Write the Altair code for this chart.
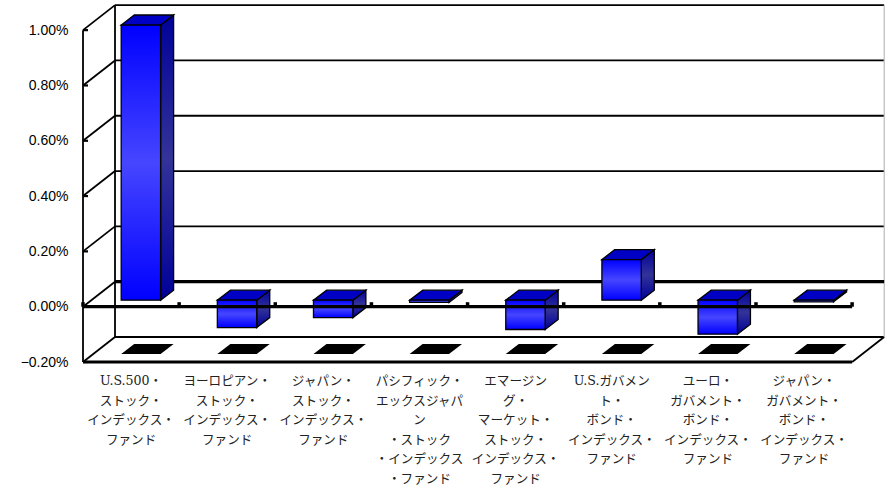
import altair as alt
import pandas as pd

categories = [
    "U.S.500・\nストック・\nインデックス・\nファンド",
    "ヨーロピアン・\nストック・\nインデックス・\nファンド",
    "ジャパン・\nストック・\nインデックス・\nファンド",
    "パシフィック・\nエックスジャパ\nン\n・ストック\n・インデックス\n・ファンド",
    "エマージン\nグ・\nマーケット・\nストック・\nインデックス・\nファンド",
    "U.S.ガバメン\nト・\nボンド・\nインデックス・\nファンド",
    "ユーロ・\nガバメント・\nボンド・\nインデックス・\nファンド",
    "ジャパン・\nガバメント・\nボンド・\nインデックス・\nファンド",
]
returns = [0.00995, -0.00099, -0.00063, -0.00008, -0.00106, 0.00147, -0.00123, -0.00006]
y_ticks = [-0.002, 0.0, 0.002, 0.004, 0.006, 0.008, 0.010]

# Oblique projection, in axis units: x is one category wide, y is a return.
PER_PX_X = 1 / 96.14
PER_PX_Y = 0.01 / 276.5
WALL_DX, WALL_DY = 32 * PER_PX_X, 25 * PER_PX_Y
BAR_LEFT, BAR_W = 38.2 * PER_PX_X, 39.4 * PER_PX_X
BAR_DX, BAR_DY = 13 * PER_PX_X, 10 * PER_PX_Y
BAR_LIFT = 6.5 * PER_PX_Y
SHADOW_LIFT = 8 * PER_PX_Y
N = len(categories)
Y_MIN, Y_MAX = -0.002, 0.01109
X_MAX = 802 * PER_PX_X

x_scale = alt.Scale(domain=[0, X_MAX], nice=False, zero=False)
y_scale = alt.Scale(domain=[Y_MIN, Y_MAX], nice=False, zero=False)
y_axis = alt.Axis(
    values=y_ticks, format=".2%", ticks=False, domain=False, grid=False,
    labelPadding=15, labelFontSize=14, labelFont="Liberation Sans",
    labelColor="#000000", title=None,
)
X = alt.X("x:Q", scale=x_scale, axis=None)
Y = alt.Y("y:Q", scale=y_scale, axis=y_axis)


def v_gradient(edge, middle):
    return alt.Gradient(
        gradient="linear", x1=0, x2=0, y1=0, y2=1,
        stops=[
            alt.GradientStop(color=edge, offset=0),
            alt.GradientStop(color=middle, offset=0.5),
            alt.GradientStop(color=edge, offset=1),
        ],
    )


def rules(rows, width, color="black"):
    df = pd.DataFrame(rows, columns=["x", "x2", "y", "y2"])
    return alt.Chart(df).mark_rule(strokeWidth=width, color=color).encode(
        x=X, x2="x2:Q", y=Y, y2="y2:Q"
    )


# Back wall, side wall and floor
grid_levels = [t for t in y_ticks if t != -0.002 and t != 0.0]
wall_rows = [(WALL_DX, N + WALL_DX, t + WALL_DY, t + WALL_DY) for t in grid_levels]
wall_rows += [(0, WALL_DX, t, t + WALL_DY) for t in y_ticks]
wall_rows += [
    (WALL_DX, WALL_DX, Y_MIN + WALL_DY, 0.01 + WALL_DY),
    (0, 0, Y_MIN, 0.01),
    (WALL_DX, N + WALL_DX, Y_MIN + WALL_DY, Y_MIN + WALL_DY),
    (N, N + WALL_DX, Y_MIN, Y_MIN + WALL_DY),
]
walls = rules(wall_rows, 1.8)
far_edge = rules([(X_MAX - 0.008, X_MAX - 0.008, Y_MIN + WALL_DY, 0.01 + WALL_DY)], 1.2, "#bbbbbb")
y_marks = rules([(0, 5 * PER_PX_X, t, t) for t in y_ticks], 2.2)
floor_front = rules([(0, N, Y_MIN, Y_MIN)], 2.8)
zero_back = rules([(WALL_DX, N + WALL_DX, WALL_DY, WALL_DY)], 3.2)
zero_front = rules([(0, N, 0, 0)], 3.2)
zero_ticks = rules([(i, i, 0, 4.5 * PER_PX_Y) for i in range(N + 1)], 3.5)

# Faces of each box
front, side, top, shadow = [], [], [], []
for i, v in enumerate(returns):
    x0 = i + BAR_LEFT
    x1 = x0 + BAR_W
    hi = max(v, 0) + BAR_LIFT
    lo = min(v, 0) + BAR_LIFT
    front.append({"i": i, "x": x0, "x2": x1, "y": lo, "y2": hi})
    side.append({"i": i, "x": x1, "y": lo, "y2": hi})
    side.append({"i": i, "x": x1 + BAR_DX, "y": lo + BAR_DY, "y2": hi + BAR_DY})
    top.append({"i": i, "x": x0, "x2": x1, "y": hi})
    top.append({"i": i, "x": x0 + BAR_DX, "x2": x1 + BAR_DX, "y": hi + BAR_DY})
    floor = Y_MIN + SHADOW_LIFT
    shadow.append({"i": i, "x": x0, "x2": x1, "y": floor})
    shadow.append({"i": i, "x": x0 + BAR_DX, "x2": x1 + BAR_DX, "y": floor + BAR_DY})

shadows = alt.Chart(pd.DataFrame(shadow)).mark_area(orient="horizontal", color="black").encode(
    x=X, x2="x2:Q", y=Y, detail="i:N"
)
front_faces = alt.Chart(pd.DataFrame(front)).mark_rect(
    fill=v_gradient("#0000ff", "#4646ff"), stroke="black", strokeWidth=1.3
).encode(x=X, x2="x2:Q", y=Y, y2="y2:Q")
side_faces = alt.Chart(pd.DataFrame(side)).mark_area(
    fill=v_gradient("#000099", "#333399"), stroke="black", strokeWidth=1.3
).encode(x=X, y=Y, y2="y2:Q", detail="i:N")
top_faces = alt.Chart(pd.DataFrame(top)).mark_area(
    orient="horizontal", fill="#0000c4", stroke="black", strokeWidth=1.3
).encode(x=X, x2="x2:Q", y=Y, detail="i:N")

# Category names under the floor
labels = alt.Chart(
    pd.DataFrame({"x": [i + 0.5 for i in range(N)], "y": [Y_MIN] * N, "t": categories})
).mark_text(
    lineBreak="\n", lineHeight=19.5, baseline="top", align="center", dy=13,
    fontSize=12.6, font="DejaVu Serif, Noto Sans CJK JP", color="#222222",
).encode(x=X, y=Y, text="t:N")

chart = alt.layer(
    walls, far_edge, shadows, zero_back, side_faces, top_faces, front_faces,
    floor_front, y_marks, zero_front, zero_ticks, labels,
).properties(
    width=802,
    height=362,
    padding={"left": 83, "top": 0, "right": 0, "bottom": 124},
    autosize=alt.AutoSizeParams(type="none"),
    background="white",
).configure_view(stroke=None)

chart.save("out.html", embed_options={"renderer": "svg", "actions": False})
